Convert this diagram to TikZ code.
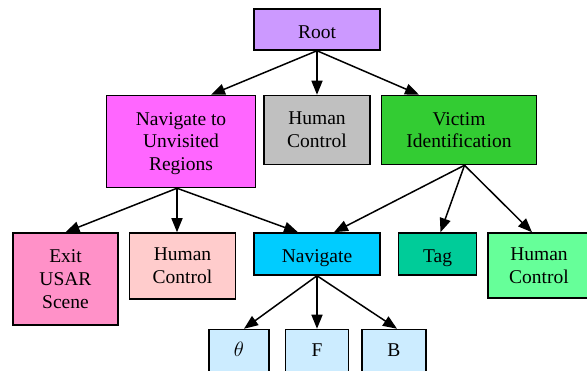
\documentclass[tikz,border=0pt]{standalone}
\usepackage{fontspec}
\setmainfont{Liberation Serif}
\usetikzlibrary{arrows.meta,positioning}
\definecolor{rootcol}{RGB}{204,153,255}
\definecolor{unvcol}{RGB}{255,102,255}
\definecolor{hcgray}{RGB}{192,192,192}
\definecolor{viccol}{RGB}{51,204,51}
\definecolor{exitcol}{RGB}{255,145,200}
\definecolor{hcpink}{RGB}{255,204,204}
\definecolor{navcol}{RGB}{0,204,255}
\definecolor{tagcol}{RGB}{0,204,153}
\definecolor{hcgreen}{RGB}{102,255,153}
\definecolor{leafcol}{RGB}{204,236,255}
\tikzset{
  box/.style = {draw=black, line width=1.5pt, align=center, inner sep=0pt,
    font=\fontsize{19.5}{22.7}\selectfont},
  oneline/.style = {box, text height=18pt, text depth=0pt},% one line of text
  leaf/.style = {box, fill=leafcol, minimum height=48pt,
    text height=5.4pt, text depth=0pt},% cut off at the bottom
  edge/.style = {-{Triangle[length=14pt,width=11pt]}, line width=1.5pt}
}

\begin{document}
\begin{tikzpicture}
        \useasboundingbox (0,0) rectangle (587pt,-371pt);
        \clip (0,0) rectangle (587pt,-371pt);

        \node [oneline, fill=rootcol, minimum width=126pt, minimum height=41pt](root) at (317pt,-29.5pt){Root};
        \node [box, fill=hcgray, minimum width=106pt, minimum height=69pt, below= 44pt of root](hcA){Human\\Control};
        \node [box, fill=unvcol, minimum width=149pt, minimum height=92pt, text depth=0pt, left= 7pt of hcA.north west, anchor=north east](unv){Navigate to\\Unvisited\\Regions};
        \node [box, fill=viccol, minimum width=155pt, minimum height=69pt, right= 10pt of hcA.north east, anchor=north west](vic){Victim\\Identification};

        \node [oneline, fill=navcol, minimum width=126pt, minimum height=42pt, below= 67pt of hcA](nav){Navigate};
        \node [box, fill=hcpink, minimum width=106pt, minimum height=66pt, left= 17pt of nav.north west, anchor=north east](hcB){Human\\Control};
        \node [box, fill=exitcol, minimum width=105pt, minimum height=92pt, left= 10pt of hcB.north west, anchor=north east](exit){Exit\\USAR\\Scene};
        \node [oneline, fill=tagcol, minimum width=78pt, minimum height=42pt, right= 17pt of nav.north east, anchor=north west](tag){Tag};
        \node [box, fill=hcgreen, minimum width=102pt, minimum height=65pt, right= 10pt of tag.north east, anchor=north west](hcC){Human\\Control};

        \node [leaf, minimum width=63pt, below= 53pt of nav](F){F};
        \node [leaf, minimum width=60pt, left= 15pt of F.north west, anchor=north east](th){$\theta$};
        \node [leaf, minimum width=64pt, right= 12pt of F.north east, anchor=north west](B){B};

        \draw [edge] (root.south) -- ([xshift=30pt]unv.north);
        \draw [edge] (root.south) -- (root.south |- hcA.north);
        \draw [edge] (root.south) -- ([xshift=-40pt]vic.north);

        \draw [edge] ([xshift=-4pt]unv.south) -- (exit.north);
        \draw [edge] ([xshift=-4pt]unv.south) -- ([xshift=-4pt]unv.south |- hcB.north);
        \draw [edge] ([xshift=-4pt]unv.south) -- ([xshift=-19pt]nav.north);

        \draw [edge] ([xshift=5.5pt]vic.south) -- ([xshift=17pt]nav.north);
        \draw [edge] ([xshift=5.5pt]vic.south) -- ([xshift=3pt]tag.north);
        \draw [edge] ([xshift=5.5pt]vic.south) -- ([xshift=-7pt]hcC.north);

        \draw [edge] (nav.south) -- ([xshift=5pt]th.north);
        \draw [edge] (nav.south) -- (nav.south |- F.north);
        \draw [edge] (nav.south) -- ([xshift=3pt]B.north);

        \end{tikzpicture}
\end{document}
